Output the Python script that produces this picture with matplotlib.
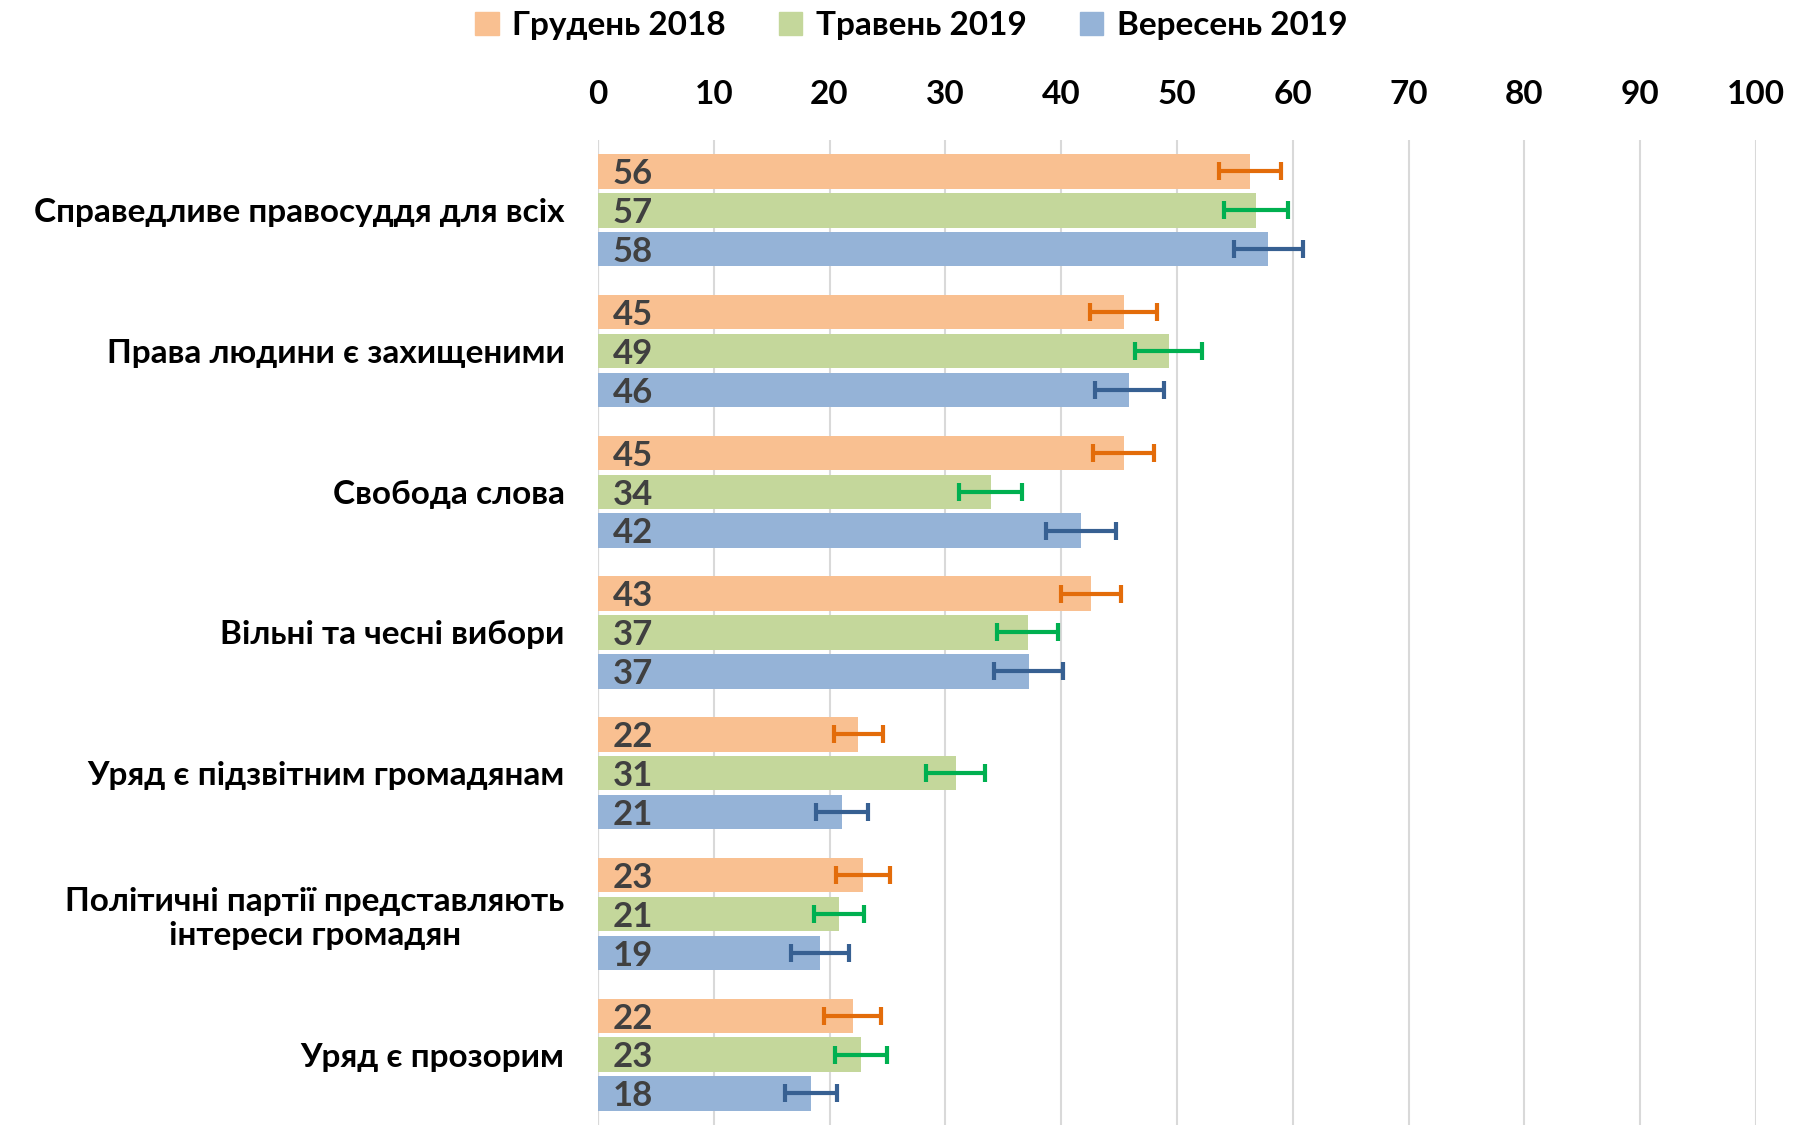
import matplotlib
matplotlib.use("Agg")
import matplotlib.pyplot as plt
import numpy as np
from matplotlib.patches import Patch

plt.rcParams['font.family'] = ['Lato', 'DejaVu Sans']
plt.rcParams['font.weight'] = 'bold'

categories = [
    "Справедливе правосуддя для всіх",
    "Права людини є захищеними",
    "Свобода слова",
    "Вільні та чесні вибори",
    "Уряд є підзвітним громадянам",
    "Політичні партії представляють\nінтереси громадян",
    "Уряд є прозорим",
]
series = ["Грудень 2018", "Травень 2019", "Вересень 2019"]

dec_2018 = [56.3, 45.4, 45.4, 42.6, 22.5, 22.9, 22.0]
may_2019 = [56.8, 49.3, 33.9, 37.1, 30.9, 20.8, 22.7]
sep_2019 = [57.9, 45.9, 41.7, 37.2, 21.1, 19.2, 18.4]

dec_err = [2.65, 2.9, 2.65, 2.6, 2.15, 2.3, 2.45]
may_err = [2.75, 2.9, 2.75, 2.65, 2.55, 2.15, 2.25]
sep_err = [2.95, 2.95, 3.0, 3.0, 2.25, 2.5, 2.25]

bar_colors = ["#F9C091", "#C4D79B", "#95B3D7"]
err_colors = ["#E36C0A", "#00B050", "#376092"]

fig = plt.figure(figsize=(17.94, 11.25), dpi=100)
ax = fig.add_axes([0.3333, 0.0, 0.6455, 0.8756])

y = np.arange(len(categories))
pitch = 0.276
bh = 0.245
values = [dec_2018, may_2019, sep_2019]
errs = [dec_err, may_err, sep_err]

for j, (vals, er) in enumerate(zip(values, errs)):
    ypos = y + (j - 1) * pitch
    ax.barh(ypos, vals, height=bh, color=bar_colors[j], zorder=2)
    ax.errorbar(vals, ypos, xerr=er, fmt='none', ecolor=err_colors[j],
                elinewidth=3, capsize=6.5, capthick=3, zorder=3)
    for yy, v in zip(ypos, vals):
        ax.text(1.3, yy + 0.02, f"{v:.0f}", va='center', ha='left',
                fontsize=25, color="#404040", fontweight='bold', zorder=4)

ax.set_xlim(0, 100)
ax.set_ylim(len(categories) - 0.5, -0.5)
ax.set_xticks(np.arange(0, 101, 10))
ax.xaxis.tick_top()
ax.tick_params(axis='x', length=0, pad=22, labelsize=24)
ax.set_yticks(y)
ax.set_yticklabels(categories, fontsize=24, multialignment='center')
ax.tick_params(axis='y', length=0, pad=24)
ax.grid(axis='x', color="#D9D9D9", linewidth=1.5, zorder=0)
ax.axvline(0, color="#BFBFBF", linewidth=1.5, zorder=1)
for s in ax.spines.values():
    s.set_visible(False)

handles = [Patch(color=c) for c in bar_colors]
fig.legend(handles, series, loc='upper center', bbox_to_anchor=(0.508, 1.017),
           ncol=3, frameon=False, fontsize=24, handlelength=0.7, handleheight=0.7,
           columnspacing=1.6, handletextpad=0.4)

fig.savefig("out.png", dpi=100)
